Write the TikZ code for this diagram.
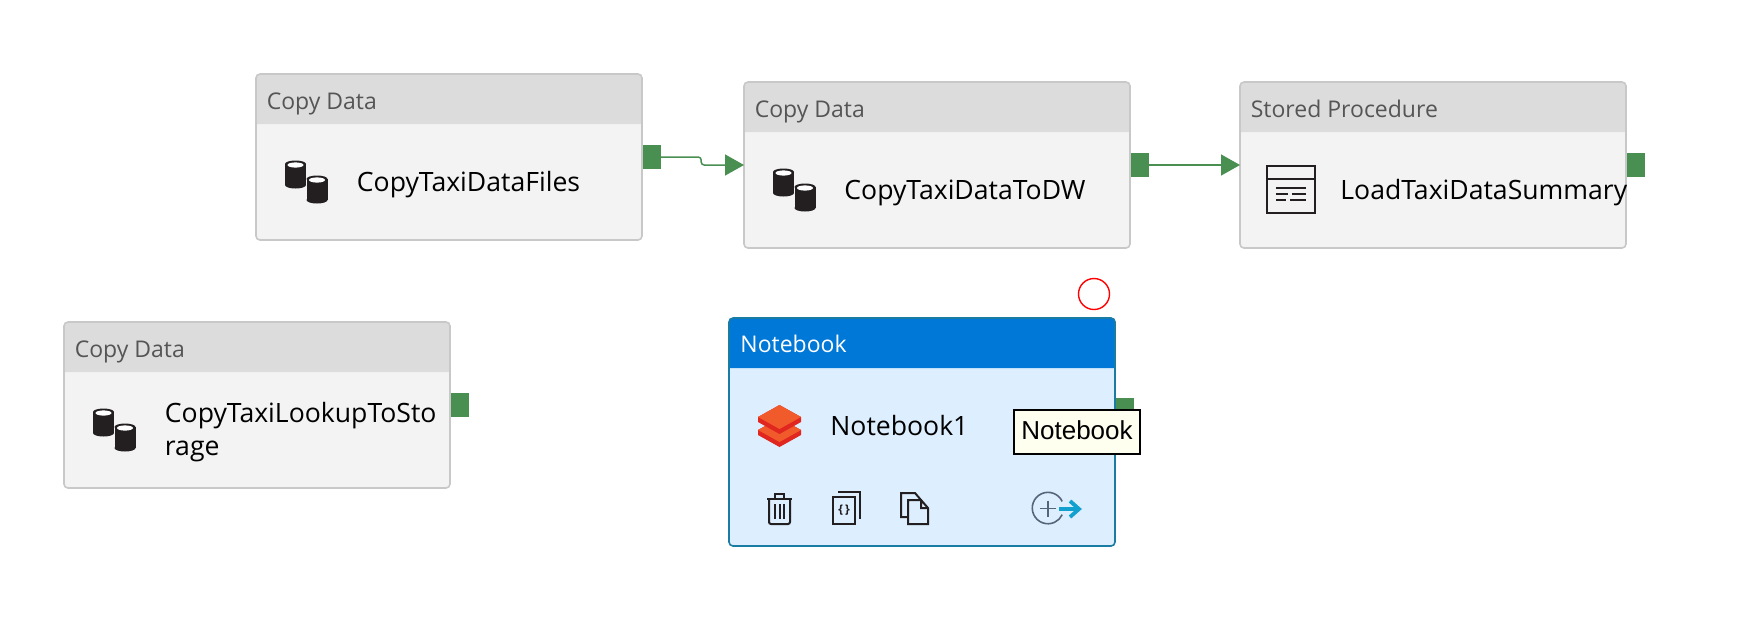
\documentclass[tikz,border=0pt]{standalone}
\usepackage{fontspec}
\setmainfont{Open Sans}
\newfontfamily\tipfont{Liberation Sans}
\usetikzlibrary{arrows.meta}
\definecolor{flowgreen}{HTML}{4A8F52}
\definecolor{cardedge}{HTML}{C8C8C8}
\definecolor{cardhead}{HTML}{DCDCDC}
\definecolor{cardbody}{HTML}{F3F3F3}
\definecolor{headtext}{HTML}{555555}
\definecolor{ink}{HTML}{231F20}
\definecolor{nbblue}{HTML}{0078D7}
\definecolor{nbbody}{HTML}{DDEFFF}
\definecolor{nbedge}{HTML}{1B7CA3}
\definecolor{nbtop}{HTML}{F15A2B}
\definecolor{nbside}{HTML}{E0261F}
\definecolor{tipfill}{HTML}{FFFFF0}
\definecolor{addblue}{HTML}{12A0CF}
\definecolor{addgrey}{HTML}{56657A}
\tikzset{
  card/.style={anchor=north west,fill=cardbody,rounded corners=2pt,minimum width=193pt,minimum height=83pt,inner sep=0pt,outer sep=0pt},
  headbar/.style={fill=cardhead},
  cardline/.style={draw=cardedge,line width=.8pt,rounded corners=2pt},
  headlabel/.style={anchor=base west,text=headtext,font=\fontsize{11.5}{13}\selectfont,inner sep=0pt},
  mainlabel/.style={anchor=base west,align=left,font=\fontsize{13.3}{16.8}\selectfont,inner sep=0pt},
  port/.style={fill=flowgreen,minimum width=9pt,minimum height=12.3pt,inner sep=0pt,outer sep=0pt,anchor=west},
  flow/.style={draw=flowgreen,line width=.75pt,-{Triangle[length=9.5pt,width=10.5pt]}},
  tipbox/.style={draw=black,line width=1pt,fill=tipfill,inner sep=0pt,text depth=1.5pt,minimum width=63pt,minimum height=22pt,font=\tipfont\fontsize{13}{15}\selectfont},
  iconline/.style={draw=ink,line width=1pt},
  pics/dbstack/.style={code={
    \foreach \cx/\cy in {10.5/0,32/15}{
      \fill[ink] (\cx-10.5,\cy+3) rectangle (\cx+10.5,\cy+24);
      \fill[ink] (\cx,\cy+3) circle[x radius=10.5,y radius=3.5];
      \fill[ink] (\cx,\cy+24) circle[x radius=10.5,y radius=3.5];
      \fill[white] (\cx,\cy+4) circle[x radius=8,y radius=2.6];
    }
  }}
}
\begin{document}
\begin{tikzpicture}[x=.5pt,y=-.5pt]
\useasboundingbox (0,0) rectangle (1761,629);
% grey cards
\foreach \nm/\xx/\yy/\kind in {cardA/256/74/Copy Data,cardB/744/82/Copy Data,cardC/1240/82/Stored Procedure,cardD/64/322/Copy Data}{
  \node[card] (\nm) at (\xx,\yy) {};
  \fill[headbar] ([yshift=-25pt]\nm.north west) [rounded corners=2pt] -- (\nm.north west) -- (\nm.north east) [sharp corners] -- ([yshift=-25pt]\nm.north east) -- cycle;
  \draw[cardline] (\nm.north west) rectangle (\nm.south east);
  \node[headlabel] (\nm title) at ([xshift=5.2pt,yshift=-17.5pt]\nm.north west) {\kind};
  \node[port] (\nm port) at ([xshift=.6pt]\nm.east) {};
}
\node[mainlabel] (nameA) at (356.5,191.5) {CopyTaxiDataFiles};
\node[mainlabel] (nameB) at (844,199.5) {CopyTaxiDataToDW};
\node[mainlabel] (nameC) at (1340,199.5) {LoadTaxiDataSummary};
\node[mainlabel,anchor=west] (nameD) at (164.5,432) {CopyTaxiLookupToSto\\rage};
\pic at (285,161) {dbstack};
\pic at (773,169) {dbstack};
\pic at (93,409) {dbstack};
% stored procedure icon
\draw[iconline,line width=1.25pt] (1267,166) rectangle (1315,213) (1267,179)--(1315,179);
\draw[iconline,line width=1.25pt] (1276,188)--(1306,188) (1276,194)--(1288,194) (1292,194)--(1306,194) (1276,200)--(1286,200) (1290,200)--(1306,200);
% selected card
\node[card,minimum height=114pt,fill=nbbody] (cardE) at (729,318) {};
\fill[nbblue] ([yshift=-25pt]cardE.north west) [rounded corners=2pt] -- (cardE.north west) -- (cardE.north east) [sharp corners] -- ([yshift=-25pt]cardE.north east) -- cycle;
\draw[cardline,draw=nbedge] (cardE.north west) rectangle (cardE.south east);
\node[headlabel,text=white] (cardEtitle) at (740,352) {Notebook};
\node[mainlabel] (nameE) at (830,435) {Notebook1};
\node[port,anchor=north west] (cardEport) at (1116,398) {};
\node[tipbox] (tipE) at (1077,431.5) {Notebook};
\node[circle,draw=red,line width=.7pt,minimum size=15.5pt,inner sep=0pt] (marker) at (1094,294) {};
% notebook icon
\fill[nbside] (758,430)--(779.5,418)--(801,430)--(801,435)--(779.5,447)--(758,435)--cycle;
\fill[nbtop] (758,430)--(779.5,418)--(801,430)--(779.5,442)--cycle;
\fill[nbside] (758,417)--(779.5,405)--(801,417)--(801,422)--(779.5,434)--(758,422)--cycle;
\fill[nbtop] (758,417)--(779.5,405)--(801,417)--(779.5,429)--cycle;
% toolbar icons
\draw[iconline] (767,499)--(792,499) (775,499)--(775,494)--(784,494)--(784,499);
\draw[iconline,rounded corners=1pt] (769,499)--(769,524)--(790,524)--(790,499);
\draw[iconline] (775,504)--(775,519) (779.5,504)--(779.5,519) (784,504)--(784,519);
\draw[iconline] (833,497) rectangle (855,524) (838,492)--(860,492)--(860,519);
\node[font=\bfseries\fontsize{6}{7}\selectfont,text=ink,inner sep=0pt] (braceE) at (844,510) {\{\,\}};
\draw[iconline] (908,517)--(901,517)--(901,493)--(915,493)--(921,500);
\draw[iconline] (908,500)--(921,500)--(928,508)--(928,524)--(908,524)--cycle (921,500)--(921,508)--(928,508);
\draw[addgrey,line width=.8pt] (1062.2,501.4) arc (-25:-335:15.7 and 15.7);
\draw[addgrey,line width=.8pt] (1040,508.5)--(1056,508.5) (1048,500.5)--(1048,516.5);
\draw[addblue,line width=1.9pt] (1059,509)--(1079,509) (1070,501)--(1079,509)--(1070,517);
% links between cards
\draw[flow,rounded corners=1.5pt] (cardAport.east) -- ++(40,0) -- ++(0,8) -- (cardB.west);
\draw[flow] (cardBport.east) -- (cardC.west);
\end{tikzpicture}
\end{document}
